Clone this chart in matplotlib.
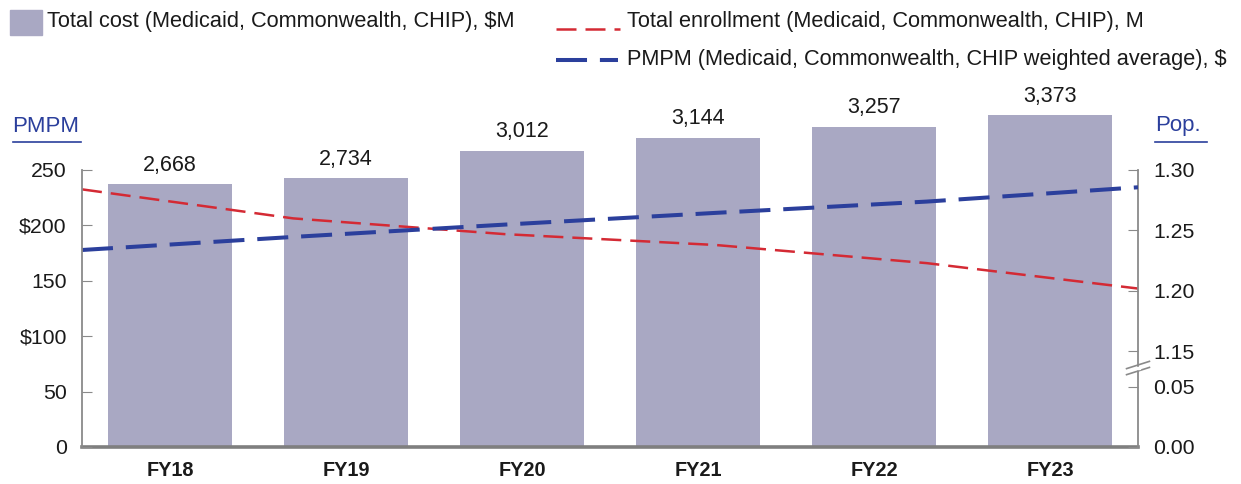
import numpy as np
import matplotlib
matplotlib.use("Agg")
import matplotlib.pyplot as plt
from matplotlib.lines import Line2D
from matplotlib.patches import Rectangle

plt.rcParams.update({"font.family": ["Liberation Sans", "DejaVu Sans"], "font.size": 15})

years = ["FY18", "FY19", "FY20", "FY21", "FY22", "FY23"]
cost = [2668, 2734, 3012, 3144, 3257, 3373]            # $M
enroll = [1.284, 1.260, 1.247, 1.238, 1.223, 1.202]     # M
pmpm = [177.8, 189.6, 200.7, 211.3, 221.5, 234.4]       # $

BAR_C = "#a9a8c3"
RED = "#d42a34"
BLUE = "#2b3f9c"
TXT = "#1a1a1a"
GRAY = "#8a8a8a"

# broken right axis: upper part (>=1.15) is pulled down next to 0.05
SHIFT = 1.071
def rmap(v):
    v = np.asarray(v, dtype=float)
    return np.where(v > 0.5, v - SHIFT, v)

W, H = 1241, 484
fig = plt.figure(figsize=(W / 100, H / 100), dpi=100)
ax0 = fig.add_axes([82 / W, 1 - 447 / H, (1138 - 82) / W, (447 - 170) / H])
x = np.arange(len(years))

# bars (hidden scale)
ax0.bar(x, cost, width=0.705, color=BAR_C, clip_on=False, zorder=1)
ax0.set_ylim(0, 250 * 11.26)
ax0.set_xlim(-0.5, 5.5)
for xi, c in zip(x, cost):
    ax0.annotate(f"{c:,}", (xi, c), xytext=(0, 6), textcoords="offset points",
                 ha="center", va="bottom", fontsize=15.5, color=TXT, annotation_clip=False)
ax0.set_yticks([])
ax0.set_xticks(x)
ax0.set_xticklabels(years, fontweight="bold", fontsize=14.3, color=TXT)
ax0.tick_params(axis="x", length=0, pad=10)
for s in ["top", "left", "right"]:
    ax0.spines[s].set_visible(False)
ax0.spines["bottom"].set_color("#7f7f7f")
ax0.spines["bottom"].set_linewidth(2.6)
ax0.spines["bottom"].set_zorder(5)

xl = np.linspace(-0.5, 5.5, len(years))

# enrollment, right axis
axr = ax0.twinx()
axr.plot(xl, rmap(enroll), color=RED, lw=1.8, ls=(0, (8, 3.6)), solid_capstyle="butt")
axr.set_ylim(0, 1.30 - SHIFT)
rt = [0.0, 0.05, 1.15, 1.20, 1.25, 1.30]
axr.set_yticks(rmap(rt))
axr.set_yticklabels([f"{v:.2f}" for v in rt], color=TXT, fontsize=15.3)
axr.tick_params(axis="y", direction="in", length=7, color=GRAY, pad=11)
for s in ["top", "left", "bottom"]:
    axr.spines[s].set_visible(False)
axr.spines["right"].set_color(GRAY)
axr.spines["right"].set_linewidth(1.3)

# break marks on the right axis
for yb in [0.0628, 0.0678]:
    axr.plot([5.5 - 0.065, 5.5 + 0.065], [yb - 0.003, yb + 0.003], color=GRAY, lw=1.2,
             clip_on=False, transform=axr.transData)
axr.add_patch(Rectangle((5.49, 0.0648), 0.02, 0.0012, color="white", clip_on=False, zorder=6))

# PMPM, left axis
axl = ax0.twinx()
axl.yaxis.tick_left()
axl.plot(xl, pmpm, color=BLUE, lw=2.9, ls=(0, (7.7, 3.2)), solid_capstyle="butt")
axl.set_ylim(0, 250)
axl.set_yticks([0, 50, 100, 150, 200, 250])
axl.set_yticklabels(["0", "50", "$100", "150", "$200", "250"], color=TXT, fontsize=15.3)
axl.tick_params(axis="y", direction="in", length=7, color=GRAY, pad=11)
for s in ["top", "right", "bottom"]:
    axl.spines[s].set_visible(False)
axl.spines["left"].set_color(GRAY)
axl.spines["left"].set_linewidth(1.3)

# axis titles with underline
fig.text(12 / W, 1 - 126 / H, "PMPM", color=BLUE, fontsize=16, va="center", ha="left")
fig.add_artist(Line2D([13 / W, 81 / W], [1 - 142 / H] * 2, color=BLUE, lw=1.2))
fig.text(1155 / W, 1 - 126 / H, "Pop.", color=BLUE, fontsize=16, va="center", ha="left")
fig.add_artist(Line2D([1155 / W, 1207 / W], [1 - 142 / H] * 2, color=BLUE, lw=1.2))

# legend
LEG = 15.7
fig.add_artist(Rectangle((10 / W, 1 - 35 / H), 32 / W, 25 / H, color=BAR_C, transform=fig.transFigure))
fig.text(47 / W, 1 - 22 / H, "Total cost (Medicaid, Commonwealth, CHIP), $M", fontsize=LEG,
         color=TXT, va="center", ha="left")
fig.add_artist(Line2D([556 / W, 620 / W], [1 - 29 / H] * 2, color=RED, lw=1.8, ls=(0, (8, 3.6))))
fig.text(627 / W, 1 - 22 / H, "Total enrollment (Medicaid, Commonwealth, CHIP), M", fontsize=LEG,
         color=TXT, va="center", ha="left")
fig.add_artist(Line2D([556 / W, 618 / W], [1 - 60 / H] * 2, color=BLUE, lw=2.9, ls=(0, (7.7, 3.2))))
fig.text(627 / W, 1 - 59 / H, "PMPM (Medicaid, Commonwealth, CHIP weighted average), $", fontsize=LEG,
         color=TXT, va="center", ha="left")

fig.savefig("out.png", dpi=100)
